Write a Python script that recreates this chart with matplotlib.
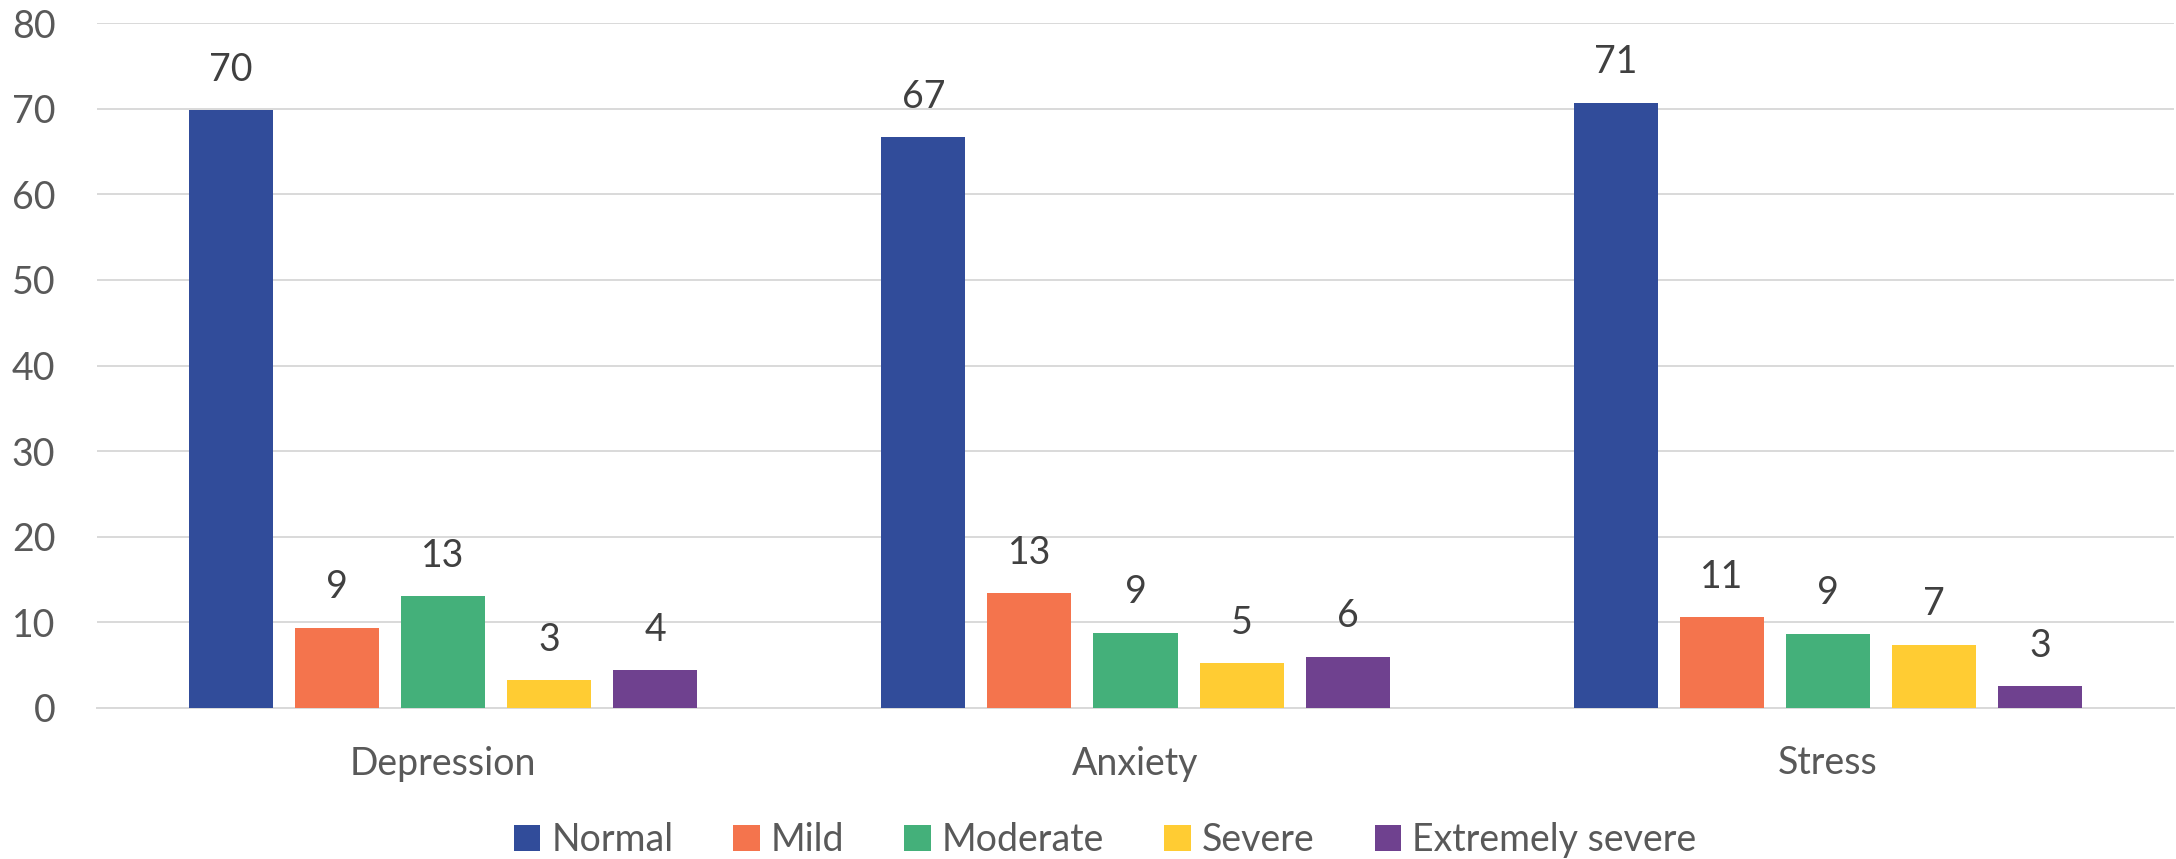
import numpy as np
import matplotlib
matplotlib.use("Agg")
import matplotlib.pyplot as plt
from matplotlib.patches import Patch

categories = ["Depression", "Anxiety", "Stress"]
levels = ["Normal", "Mild", "Moderate", "Severe", "Extremely severe"]
normal = [69.8, 66.7, 70.7]
mild = [9.4, 13.4, 10.6]
moderate = [13.1, 8.8, 8.7]
severe = [3.3, 5.2, 7.4]
extreme = [4.4, 6.0, 2.6]
yticks = [0, 10, 20, 30, 40, 50, 60, 70, 80]

series = [normal, mild, moderate, severe, extreme]
colors = ["#314C9A", "#F4744D", "#44B07A", "#FFCC33", "#6F418F"]

plt.rcParams['font.family'] = ['Lato', 'DejaVu Sans']

fig = plt.figure(figsize=(21.76, 8.59), dpi=100)
ax = fig.add_axes([97 / 2176, 151 / 859, 2077 / 2176, 685 / 859])

x = np.arange(len(categories))
step = 0.1532
width = 0.1214
for i, vals in enumerate(series):
    pos = x + (i - 2) * step
    bars = ax.bar(pos, vals, width, color=colors[i], zorder=3)
    for b, v in zip(bars, vals):
        ax.annotate(str(int(round(v))), (b.get_x() + b.get_width() / 2, v),
                    xytext=(0, 16), textcoords="offset points",
                    ha="center", va="bottom", fontsize=27, color="#404040")

ax.set_xlim(-0.5, 2.5)
ax.set_ylim(0, 80)
ax.set_yticks(yticks)
ax.set_xticks(x)
ax.set_xticklabels(categories)
ax.yaxis.grid(True, color="#D9D9D9", linewidth=1.4, zorder=0)
ax.tick_params(axis="both", length=0, labelsize=27, labelcolor="#595959")
ax.tick_params(axis="y", pad=30)
ax.tick_params(axis="x", pad=27)
for s in ["top", "right", "left"]:
    ax.spines[s].set_visible(False)
ax.spines["bottom"].set_color("#D9D9D9")
ax.spines["bottom"].set_linewidth(1.4)

handles = [Patch(facecolor=c, label=l) for c, l in zip(colors, levels)]
fig.legend(handles=handles, loc="center", bbox_to_anchor=(1105 / 2176, 1 - 840 / 859),
           ncol=5, frameon=False, fontsize=27, labelcolor="#595959",
           handlelength=0.7, handleheight=0.7, handletextpad=0.3, columnspacing=1.6)

fig.savefig("out.png", dpi=100)
